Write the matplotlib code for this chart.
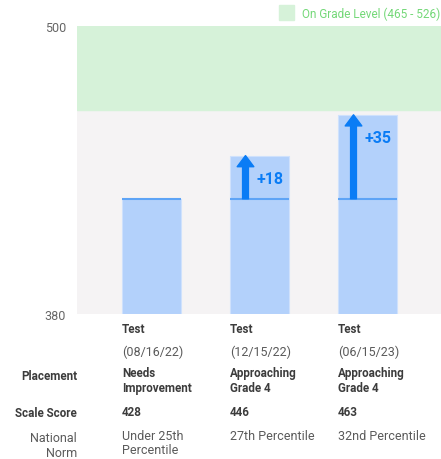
import numpy as np
import matplotlib
matplotlib.use('Agg')
import matplotlib.pyplot as plt
from matplotlib.transforms import blended_transform_factory

plt.rcParams['font.family'] = ['Roboto', 'DejaVu Sans']

# data
tests = ['Test', 'Test', 'Test']
dates = ['(08/16/22)', '(12/15/22)', '(06/15/23)']
placement = [['Needs', 'Improvement'], ['Approaching', 'Grade 4'], ['Approaching', 'Grade 4']]
scores = [428, 446, 463]
norms = [['Under 25th', 'Percentile'], ['27th Percentile'], ['32nd Percentile']]
grade_lo, grade_hi = 465, 526
y_min, y_max = 380, 500

BAR = '#b3d1fb'
LINE = '#5ea4f6'
ARROW = '#0a7cf5'
BG = '#f5f3f4'
GREEN = '#d6f2d9'
DARK = '#3c3c3c'
GREY = '#5a5a5a'
BS = 8.4  # bold text size

W, H = 441, 460
fig = plt.figure(figsize=(W / 100, H / 100), dpi=100)
ax = fig.add_axes([77 / W, (H - 315) / H, 1 - 77 / W, (315 - 27) / H])
ax.set_facecolor(BG)

x = np.arange(len(scores))
bw = 0.55
ax.axhspan(grade_lo, grade_hi, color=GREEN, zorder=0)
ax.bar(x, [s - y_min for s in scores], bw, bottom=y_min, color=BAR,
       edgecolor='#cfe1fc', lw=0.8, zorder=2)
ax.hlines([scores[0]] * len(x), x - bw / 2, x + bw / 2, color=LINE, lw=1.5, zorder=3)

for i in range(1, len(scores)):
    d = scores[i] - scores[0]
    ax.annotate('', xy=(i - 0.13, scores[i]), xytext=(i - 0.13, scores[0]),
                arrowprops=dict(arrowstyle='simple,head_length=0.8,head_width=1.2,tail_width=0.42',
                                mutation_scale=10, color=ARROW, shrinkA=0, shrinkB=0), zorder=4)
    ax.annotate(f'+{d}', xy=(i - 0.03, scores[i]), xytext=(0, -16.5), textcoords='offset points',
                ha='left', va='center', fontsize=11.5, fontweight='bold', color=ARROW, zorder=5)

ax.set_xlim(-0.69, 2.68)
ax.set_ylim(y_min, y_max)
ax.set_xticks([])
ax.set_yticks([y_min, y_max])
ax.set_yticklabels([str(y_min), str(y_max)], fontsize=9, color='#666666')
ax.tick_params(axis='y', length=0, pad=8)
for s in ax.spines.values():
    s.set_visible(False)

# legend
fig.patches.append(plt.Rectangle((279 / W, 1 - 21 / H), 15 / W, 15 / H, transform=fig.transFigure,
                                 color=GREEN, figure=fig))
fig.text(302 / W, 1 - 14 / H, f'On Grade Level ({grade_lo} - {grade_hi})', fontsize=8.5,
         color='#74d878', va='center', ha='left')

# table below
tr = blended_transform_factory(ax.transData, fig.transFigure)
def fy(py):
    return 1 - py / H

for i in range(len(scores)):
    xl = i - bw / 2
    ax.text(xl, fy(330), tests[i], transform=tr, fontsize=BS, fontweight='bold', color=DARK, va='center')
    ax.text(xl, fy(352), dates[i], transform=tr, fontsize=9, color=GREY, va='center')
    for k, line in enumerate(placement[i]):
        ax.text(xl, fy(374 + 15 * k), line, transform=tr, fontsize=BS, fontweight='bold', color=DARK, va='center')
    ax.text(xl, fy(413), str(scores[i]), transform=tr, fontsize=BS, fontweight='bold', color=DARK, va='center')
    for k, line in enumerate(norms[i]):
        ax.text(xl, fy(437 + 14 * k), line, transform=tr, fontsize=9, color=GREY, va='center')

lx = 77 / W
fig.text(lx, fy(376), 'Placement', fontsize=BS, fontweight='bold', color=DARK, ha='right', va='center')
fig.text(lx, fy(414), 'Scale Score', fontsize=BS, fontweight='bold', color=DARK, ha='right', va='center')
fig.text(lx, fy(438), 'National', fontsize=9, color=GREY, ha='right', va='center')
fig.text(lx, fy(454), 'Norm', fontsize=9, color=GREY, ha='right', va='center')

fig.savefig('out.png', dpi=100, facecolor='white')
